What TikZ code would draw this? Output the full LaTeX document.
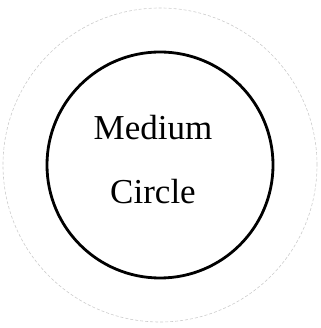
\documentclass[tikz,border=0pt]{standalone}
\usepackage{fontspec}
\setmainfont{Liberation Serif}
\begin{document}
\begin{tikzpicture}[x=1pt,y=1pt,
  outer/.style={draw=gray!40,line width=0.6pt,dash pattern=on 3pt off 2pt},
  inner/.style={draw=black,line width=2.8pt},
  every node/.style={font=\fontsize{35}{42}\selectfont}]
\useasboundingbox (0,0) rectangle (320,328);
\coordinate (c) at (160,163);
\draw[outer] (c) circle (157);
\draw[inner] (c) circle (113);
\node[anchor=base] (top) at (153,188) {Medium};
\node[anchor=base] (bot) at (153,124) {Circle};
\end{tikzpicture}
\end{document}
